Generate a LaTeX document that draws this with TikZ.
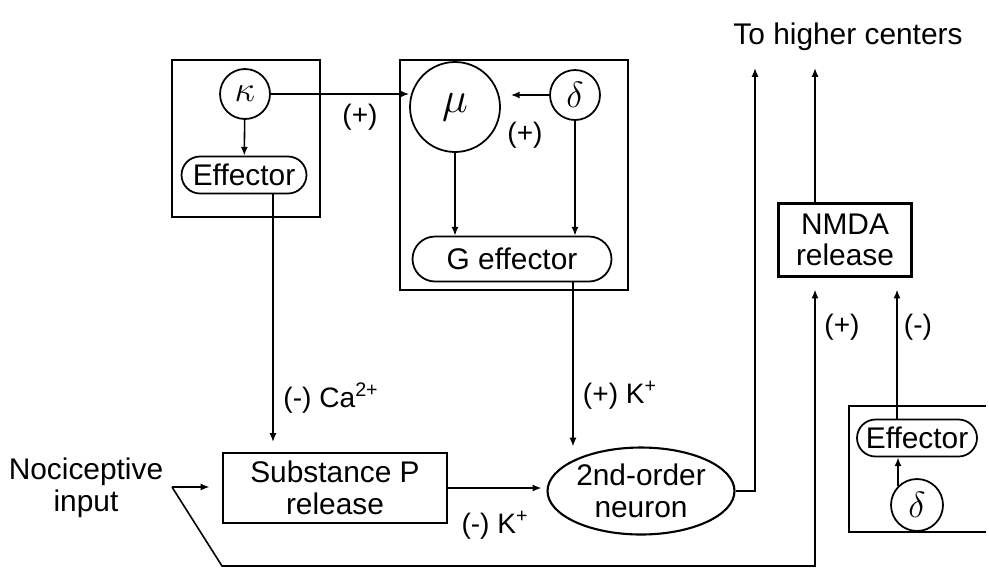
\documentclass[tikz,border=0pt]{standalone}
\usepackage{fontspec}
\setmainfont{Liberation Sans}
\usetikzlibrary{shapes.geometric, shapes.misc, arrows.meta, calc}

\begin{document}
\begin{tikzpicture}[
            x=0.02cm, y=-0.02cm,
            font=\fontsize{17}{18}\selectfont,
            frame_style/.style={draw, line width=1.3pt},
            circ_style/.style={circle, draw, line width=1pt, inner sep=0pt, font=\fontsize{21}{21}\selectfont},
            pill_style/.style={rounded rectangle, draw, line width=1pt, inner sep=0pt, minimum height=0.74cm},
            box_style/.style={rectangle, draw, line width=1.2pt, align=center, inner sep=0pt},
            oval_style/.style={ellipse, draw, line width=1.2pt, align=center, inner sep=0pt},
            line/.style={-{Latex[length=5pt, width=4pt]}, line width=0.9pt},
            sign_style/.style={font=\fontsize{16}{16}\selectfont}
        ]
        \useasboundingbox (0,0) rectangle (989,582);

        % Rahmen (kappa, mu/delta, rechts)
        \draw [frame_style] (172,60) rectangle (320,217);
        \draw [frame_style] (400,60) rectangle (628,290);
        \draw [frame_style] (986,406) -- (849,406) -- (849,532) -- (986,532);

        % Rezeptoren und Effektoren
        \node (kappa) [circ_style, minimum size=1cm] at (245,94) {$\kappa$};
        \node (keff) [pill_style, minimum width=2.5cm] at (244,175) {Effector};
        \node (mu) [circ_style, minimum size=1.8cm, font=\fontsize{28}{28}\selectfont] at (455,107) {$\mu$};
        \node (delta) [circ_style, minimum size=1cm] at (575,95) {$\delta$};
        \node (geff) [pill_style, minimum width=3.98cm, minimum height=0.9cm] at (512,259) {G effector};
        \node (reff) [pill_style, minimum width=2.4cm] at (917,438) {Effector};
        \node (rdelta) [circ_style, minimum size=1.04cm] at (917,505) {$\delta$};

        % Untere Kette
        \node (noci) [align=center] at (86,488) {Nociceptive\\input};
        \node (subp) [box_style, minimum width=4.48cm, minimum height=1.4cm] at (335,488) {Substance P\\release};
        \node (neuron) [oval_style, minimum width=3.74cm, minimum height=1.74cm] at (641,491) {2nd-order\\neuron};
        \node (nmda) [box_style, minimum width=2.66cm, minimum height=1.46cm] at (845,240) {NMDA\\release};
        \node (higher) at (848,37) {To higher centers};

        % Hilfspunkte
        \coordinate (nociout) at (172,487);
        \coordinate (bend) at (222,566);
        \coordinate (loop) at (815,566);
        \coordinate (tap) at (755,491);
        \coordinate (topA) at (755,68);

        % Verbindungen
        \draw [line] (kappa) -- (keff);
        \draw [line] (kappa.east) -- (kappa.east -| mu.west);
        \draw [line, shorten >=0.2cm] (delta.west) -- (delta.west -| mu.east);
        \draw [line] (mu) -- (mu |- geff.north);
        \draw [line] (delta) -- (delta |- geff.north);
        \draw [line, shorten >=0.2cm] ([xshift=0.58cm]keff.south) -- ([xshift=0.58cm]keff.south |- subp.north);
        \draw [line] ([xshift=1.22cm]geff.south) -- ([xshift=1.22cm]geff.south |- neuron.north);
        \draw [line, shorten >=0.25cm] (nociout) -- (subp.west |- nociout);
        \draw [line, shorten >=0.1cm] (subp.east) -- (subp.east -| neuron.west);
        \draw [line] (neuron.east) -- (tap) -- (topA);
        \draw [line] ([xshift=-0.6cm]nmda.north) -- ([xshift=-0.6cm]nmda.north |- topA);
        \draw [line, shorten >=0.24cm] (nociout) -- (bend) -- (loop) -- (loop |- nmda.south);
        \draw [line, shorten >=0.24cm] ([xshift=-0.4cm]reff.north) -- ([xshift=-0.4cm]reff.north |- nmda.south);
        \draw [line] (rdelta.135) -- (rdelta.135 |- reff.south);

        % Vorzeichen
        \node (plusA) [sign_style] at (360,117) {(+)};
        \node (plusB) [sign_style] at (525,135) {(+)};
        \node (caLabel) [sign_style] at (331,398) {(-) Ca\textsuperscript{2+}};
        \node (kpLabel) [sign_style] at (620,395) {(+) K\textsuperscript{+}};
        \node (kmLabel) [sign_style] at (495,525) {(-) K\textsuperscript{+}};
        \node (plusC) [sign_style] at (842,327) {(+)};
        \node (minusC) [sign_style] at (918,327) {(-)};

    \end{tikzpicture}
\end{document}
